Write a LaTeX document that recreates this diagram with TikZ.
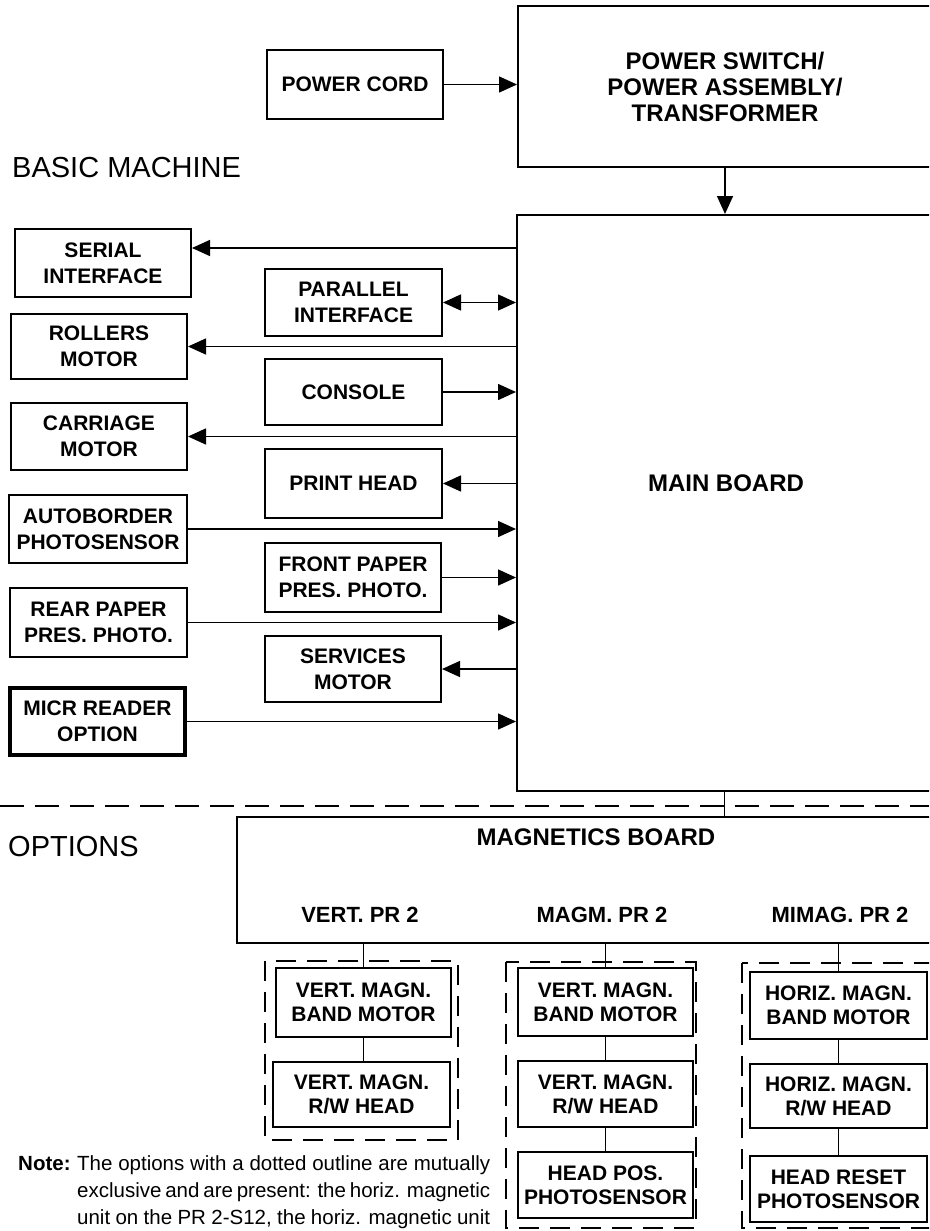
\documentclass[tikz,border=0pt]{standalone}
\usepackage{fontspec}
\setmainfont{Liberation Sans}
\usetikzlibrary{arrows.meta}
\begin{document}
\begin{tikzpicture}[x=1pt,y=-1pt,
  box/.style={draw, line width=2pt, inner sep=0pt, align=center, font=\bfseries\fontsize{21}{26}\selectfont},
  obox/.style={box, font=\bfseries\fontsize{21}{24}\selectfont},
  conn/.style={line width=1.5pt},
  arr/.style={conn, -{Triangle[length=18pt,width=16pt]}},
  darr/.style={conn, {Triangle[length=18pt,width=16pt]}-{Triangle[length=18pt,width=16pt]}},
  dbox/.style={line width=2.8pt, dash pattern=on 20pt off 11pt},
  sepline/.style={line width=2.5pt, dash pattern=on 24pt off 11pt},
  lbl/.style={font=\bfseries\fontsize{24}{25}\selectfont, inner sep=0pt, align=center},
  prlbl/.style={font=\bfseries\fontsize{22}{24}\selectfont, inner sep=0pt},
  big/.style={font=\fontsize{29}{30}\selectfont, inner sep=0pt, anchor=west},
  notefont/.style={font=\fontsize{20.5}{27}\selectfont, inner sep=0pt, anchor=base west},
]
\useasboundingbox (0,0) rectangle (929,1231);
\fill[white] (0,0) rectangle (929,1231);
\clip (0,0) rectangle (929,1231);

% top
\node[box, minimum width=176pt, minimum height=69pt] (pcord) at (355,84.5) {POWER CORD};
\node[box, minimum width=414pt, minimum height=161pt, font=\bfseries\fontsize{24}{26}\selectfont] (psw) at (725,86.5) {POWER SWITCH/\\POWER ASSEMBLY/\\TRANSFORMER};
\node[big] (basic) at (12,168) {BASIC MACHINE};

% main board
\node[draw, line width=2pt, minimum width=415pt, minimum height=576pt, inner sep=0pt] (main) at (724.5,503) {};
\node[lbl] (mainlbl) at (726,483) {MAIN BOARD};

% left column
\node[box, minimum width=176pt, minimum height=68pt] (serial) at (103,263) {SERIAL\\INTERFACE};
\node[box, minimum width=176pt, minimum height=65pt] (rollers) at (99,346.5) {ROLLERS\\MOTOR};
\node[box, minimum width=176pt, minimum height=67pt] (carriage) at (99,436.5) {CARRIAGE\\MOTOR};
\node[box, minimum width=178pt, minimum height=68pt] (autob) at (98,529) {AUTOBORDER\\PHOTOSENSOR};
\node[box, minimum width=177pt, minimum height=69pt] (rear) at (98.5,622.5) {REAR PAPER\\PRES. PHOTO.};
\node[box, line width=4pt, minimum width=175pt, minimum height=67pt] (micr) at (97.5,721.5) {MICR READER\\OPTION};

% middle column
\node[box, minimum width=177pt, minimum height=67pt] (par) at (353.5,302.5) {PARALLEL\\INTERFACE};
\node[box, minimum width=177pt, minimum height=66pt] (console) at (353.5,392) {CONSOLE};
\node[box, minimum width=177pt, minimum height=69pt] (phead) at (353.5,483.5) {PRINT HEAD};
\node[box, minimum width=176pt, minimum height=69pt] (front) at (353,577.5) {FRONT PAPER\\PRES. PHOTO.};
\node[box, minimum width=176pt, minimum height=66pt] (serv) at (353,669) {SERVICES\\MOTOR};

% top connectors
\draw[arr] (pcord.east) -- (pcord.east -| psw.west);
\draw[arr] (psw.south) -- (psw.south |- main.north);

% left connectors
\draw[arr] (main.west |- 0,248) -- (serial.east |- 0,248);
\draw[arr] (main.west |- rollers.east) -- (rollers.east);
\draw[arr] (main.west |- carriage.east) -- (carriage.east);
\draw[arr] (autob.east) -- (main.west |- autob.east);
\draw[arr] (rear.east) -- (main.west |- rear.east);
\draw[arr] (micr.east) -- (main.west |- micr.east);

% middle connectors
\draw[darr] (par.east) -- (main.west |- par.east);
\draw[arr] (console.east) -- (main.west |- console.east);
\draw[arr] (main.west |- phead.east) -- (phead.east);
\draw[arr] (front.east) -- (main.west |- front.east);
\draw[arr] (main.west |- serv.east) -- (serv.east);

% separator
\draw[sepline] (0,806) -- (929,806);
\node[big] (options) at (8,847) {OPTIONS};

% magnetics board
\node[draw, line width=2pt, minimum width=695pt, minimum height=126pt, inner sep=0pt] (mag) at (584.5,880) {};
\node[lbl] (magt) at (596,837) {MAGNETICS BOARD};
\node[prlbl] (pr1) at (360,915) {VERT. PR 2};
\node[prlbl] (pr2) at (602,915) {MAGM. PR 2};
\node[prlbl] (pr3) at (840,915) {MIMAG. PR 2};
\draw[conn] (main.south) -- (main.south |- mag.north);

% option groups (dashed outlines)
\draw[dbox] (265,961) rectangle (458,1140);
\draw[dbox] (506,962) rectangle (696,1228);
\draw[dbox] (742,963) rectangle (945,1228);

% column 1
\node[obox, fill=white, minimum width=175pt, minimum height=69pt] (v1a) at (363.5,1002.5) {VERT. MAGN.\\BAND MOTOR};
\node[obox, fill=white, minimum width=177pt, minimum height=65pt] (v1b) at (361.5,1094.5) {VERT. MAGN.\\R/W HEAD};
% column 2
\node[obox, fill=white, minimum width=175pt, minimum height=68pt] (v2a) at (605.5,1002) {VERT. MAGN.\\BAND MOTOR};
\node[obox, fill=white, minimum width=175pt, minimum height=66pt] (v2b) at (605.5,1094) {VERT. MAGN.\\R/W HEAD};
\node[obox, fill=white, minimum width=175pt, minimum height=66pt] (v2c) at (605.5,1185) {HEAD POS.\\PHOTOSENSOR};
% column 3
\node[obox, fill=white, minimum width=177pt, minimum height=67pt] (h3a) at (838.5,1005.5) {HORIZ. MAGN.\\BAND MOTOR};
\node[obox, fill=white, minimum width=177pt, minimum height=64pt] (h3b) at (838.5,1096) {HORIZ. MAGN.\\R/W HEAD};
\node[obox, fill=white, minimum width=177pt, minimum height=66pt] (h3c) at (838.5,1189) {HEAD RESET\\PHOTOSENSOR};

\draw[conn] (mag.south -| v1a.north) -- (v1a.north);
\draw[conn] (v1a.south) -- (v1a.south |- v1b.north);
\draw[conn] (mag.south -| v2a.north) -- (v2a.north);
\draw[conn] (v2a.south) -- (v2a.south |- v2b.north);
\draw[conn] (v2b.south) -- (v2b.south |- v2c.north);
\draw[conn] (mag.south -| h3a.north) -- (h3a.north);
\draw[conn] (h3a.south) -- (h3a.south |- h3b.north);
\draw[conn] (h3b.south) -- (h3b.south |- h3c.north);

% note
\node[notefont, font=\bfseries\fontsize{20.5}{27}\selectfont] (note) at (18,1170) {Note:};
\node[notefont] (n1) at (77,1170) {\makebox[413pt][s]{The options with a dotted outline are mutually}};
\node[notefont] (n2) at (77,1197) {\makebox[413pt][s]{exclusive and are present: the horiz. magnetic}};
\node[notefont] (n3) at (77,1224) {\makebox[413pt][s]{unit on the PR 2-S12, the horiz. magnetic unit}};
\end{tikzpicture}
\end{document}
